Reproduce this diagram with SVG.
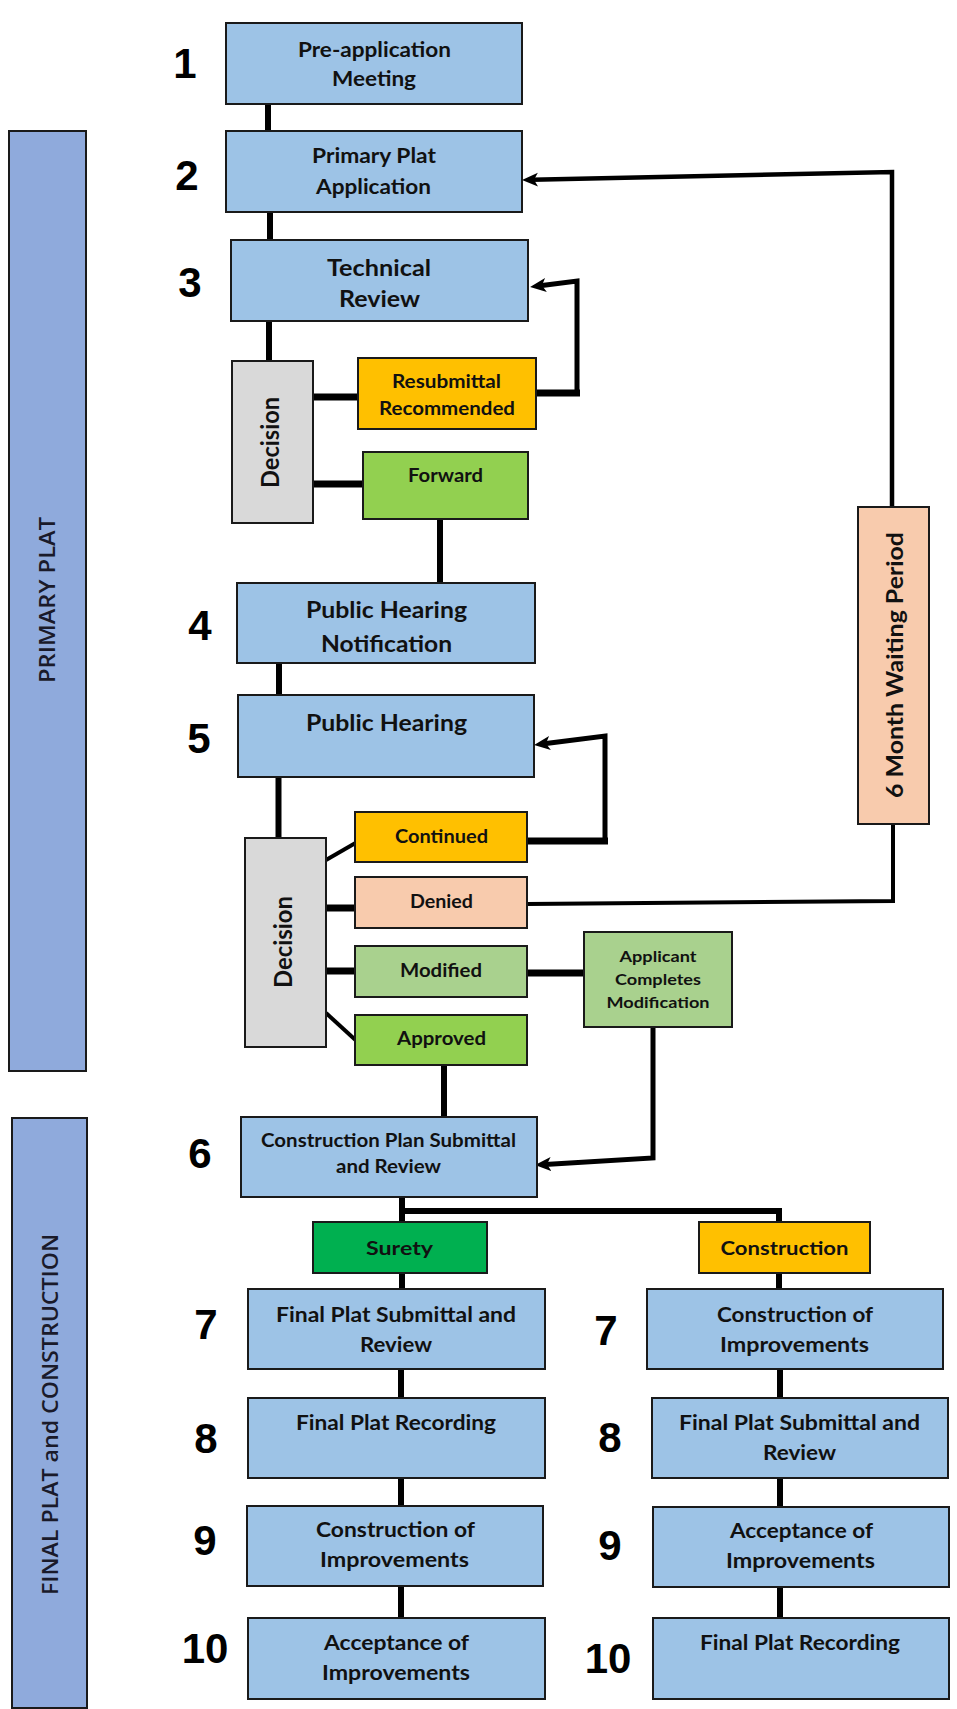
<svg xmlns="http://www.w3.org/2000/svg" width="957" height="1709" viewBox="0 0 957 1709">
<defs>
<style>
.b{stroke:#1a1a1a;stroke-width:2}
.blue{fill:#9dc3e6}
.bar{fill:#8faadc}
.gray{fill:#d9d9d9}
.org{fill:#ffc000}
.pch{fill:#f8cbad}
.lg{fill:#a9d18e}
.gr{fill:#92d050}
.dg{fill:#00b050}
.t{font-family:Lato,"Liberation Sans",sans-serif;font-weight:700;fill:#111;text-anchor:middle}
.num{font-family:"Liberation Sans",Arial,sans-serif;font-weight:700;font-size:42px;fill:#000;text-anchor:middle}
.side{font-family:"Open Sans","Liberation Sans",sans-serif;font-weight:600;font-size:22px;fill:#1a1a2a;text-anchor:middle}
.c{fill:none;stroke:#000;stroke-linejoin:miter}
</style>
<marker id="ah" markerUnits="userSpaceOnUse" markerWidth="16" markerHeight="16" viewBox="0 0 16 16" refX="6" refY="8" orient="auto">
<path d="M0,1 L16,8 L0,15 L4,8 z" fill="#000"/>
</marker>
</defs>

<g id="bar-primary">
<rect class="b bar" x="9" y="131" width="77" height="940"/>
<text class="side" transform="translate(55,600) rotate(-90)" textLength="166" lengthAdjust="spacingAndGlyphs">PRIMARY PLAT</text>
</g>
<g id="bar-final">
<rect class="b bar" x="12" y="1118" width="75" height="590"/>
<text class="side" transform="translate(57.5,1414.5) rotate(-90)" textLength="361" lengthAdjust="spacingAndGlyphs">FINAL PLAT and CONSTRUCTION</text>
</g>

<g id="connectors">
<g class="c" stroke-width="6">
<path d="M268,104 V131"/>
<path d="M270,212 V240"/>
<path d="M269,321 V361"/>
<path d="M440,519 V583"/>
<path d="M279,663 V695"/>
<path d="M278.5,777 V838"/>
<path d="M444,1065 V1117"/>
<path d="M402,1197 V1222"/>
<path d="M402,1211 H779 V1222"/>
<path d="M402,1273 V1289"/>
<path d="M779,1273 V1289"/>
<path d="M401,1369 V1398"/>
<path d="M401,1478 V1506"/>
<path d="M401,1586 V1618"/>
<path d="M780,1369 V1398"/>
<path d="M780,1478 V1507"/>
<path d="M780,1587 V1618"/>
</g>
<g class="c" stroke-width="7">
<path d="M313,397 H358"/>
<path d="M313,484 H363"/>
<path d="M326,908 H355"/>
<path d="M326,971 H355"/>
<path d="M527,973 H586"/>
<path d="M536,393 H580"/>
<path d="M527,841 H608"/>
</g>
<g class="c" stroke-width="4">
<path d="M326,860 L355.5,843"/>
<path d="M326,1013 L355.5,1040"/>
<path d="M527,904 L893,901 V824"/>
</g>
<g class="c" stroke-width="5">
<path d="M577,396 V281 L540,285.8" marker-end="url(#ah)"/>
<path d="M605,843 V736 L544,743.8" marker-end="url(#ah)"/>
<path d="M653,1027 V1158 L545,1164.4" marker-end="url(#ah)"/>
</g>
<path class="c" stroke-width="4.5" d="M892,507 V172 L532,179.8" marker-end="url(#ah)"/>
</g>

<g id="step1">
<rect class="b blue" x="226" y="23" width="296" height="81"/>
<text class="t" font-size="21" x="374.5" y="57" textLength="153" lengthAdjust="spacingAndGlyphs">Pre-application</text>
<text class="t" font-size="21" x="374" y="86" textLength="84" lengthAdjust="spacingAndGlyphs">Meeting</text>
<text class="num" x="185" y="78">1</text>
</g>
<g id="step2">
<rect class="b blue" x="226" y="131" width="296" height="81"/>
<text class="t" font-size="21" x="374" y="163" textLength="124" lengthAdjust="spacingAndGlyphs">Primary Plat</text>
<text class="t" font-size="21" x="373.5" y="194" textLength="115" lengthAdjust="spacingAndGlyphs">Application</text>
<text class="num" x="187" y="190">2</text>
</g>
<g id="step3">
<rect class="b blue" x="231" y="240" width="297" height="81"/>
<text class="t" font-size="22" x="379" y="276" textLength="104" lengthAdjust="spacingAndGlyphs">Technical</text>
<text class="t" font-size="22" x="379.5" y="307" textLength="81" lengthAdjust="spacingAndGlyphs">Review</text>
<text class="num" x="190" y="297">3</text>
</g>
<g id="decision1">
<rect class="b gray" x="232" y="361" width="81" height="162"/>
<text class="t" font-size="25" transform="translate(279,442.5) rotate(-90)" textLength="91" lengthAdjust="spacingAndGlyphs">Decision</text>
</g>
<g id="resubmittal">
<rect class="b org" x="358" y="358" width="178" height="71"/>
<text class="t" font-size="18" x="446.5" y="388" textLength="109" lengthAdjust="spacingAndGlyphs">Resubmittal</text>
<text class="t" font-size="18" x="447" y="415" textLength="136" lengthAdjust="spacingAndGlyphs">Recommended</text>
</g>
<g id="forward">
<rect class="b gr" x="363" y="452" width="165" height="67"/>
<text class="t" font-size="18" x="445.5" y="482" textLength="75" lengthAdjust="spacingAndGlyphs">Forward</text>
</g>
<g id="step4">
<rect class="b blue" x="237" y="583" width="298" height="80"/>
<text class="t" font-size="23" x="386.5" y="618" textLength="161" lengthAdjust="spacingAndGlyphs">Public Hearing</text>
<text class="t" font-size="23" x="386.5" y="652" textLength="131" lengthAdjust="spacingAndGlyphs">Notification</text>
<text class="num" x="200" y="640">4</text>
</g>
<g id="step5">
<rect class="b blue" x="238" y="695" width="296" height="82"/>
<text class="t" font-size="23" x="386.5" y="731" textLength="161" lengthAdjust="spacingAndGlyphs">Public Hearing</text>
<text class="num" x="199" y="753">5</text>
</g>
<g id="decision2">
<rect class="b gray" x="245" y="838" width="81" height="209"/>
<text class="t" font-size="25" transform="translate(292,942) rotate(-90)" textLength="92" lengthAdjust="spacingAndGlyphs">Decision</text>
</g>
<g id="continued">
<rect class="b org" x="355" y="812" width="172" height="50"/>
<text class="t" font-size="19" x="441.5" y="843" textLength="93" lengthAdjust="spacingAndGlyphs">Continued</text>
</g>
<g id="denied">
<rect class="b pch" x="355" y="877" width="172" height="51"/>
<text class="t" font-size="19" x="441.5" y="908" textLength="63" lengthAdjust="spacingAndGlyphs">Denied</text>
</g>
<g id="modified">
<rect class="b lg" x="355" y="946" width="172" height="51"/>
<text class="t" font-size="19" x="441" y="977" textLength="82" lengthAdjust="spacingAndGlyphs">Modified</text>
</g>
<g id="approved">
<rect class="b gr" x="355" y="1015" width="172" height="50"/>
<text class="t" font-size="19" x="441.5" y="1045" textLength="89" lengthAdjust="spacingAndGlyphs">Approved</text>
</g>
<g id="applicant">
<rect class="b lg" x="584" y="932" width="148" height="95"/>
<text class="t" font-size="16" x="658" y="962" textLength="77" lengthAdjust="spacingAndGlyphs">Applicant</text>
<text class="t" font-size="16" x="658" y="985" textLength="86" lengthAdjust="spacingAndGlyphs">Completes</text>
<text class="t" font-size="16" x="658" y="1008" textLength="103" lengthAdjust="spacingAndGlyphs">Modification</text>
</g>
<g id="waiting">
<rect class="b pch" x="858" y="507" width="71" height="317"/>
<text class="t" font-size="23" transform="translate(903,665) rotate(-90)" textLength="266" lengthAdjust="spacingAndGlyphs">6 Month Waiting Period</text>
</g>
<g id="step6">
<rect class="b blue" x="241" y="1117" width="296" height="80"/>
<text class="t" font-size="18" x="388.5" y="1147" textLength="255" lengthAdjust="spacingAndGlyphs">Construction Plan Submittal</text>
<text class="t" font-size="18" x="388.5" y="1173" textLength="105" lengthAdjust="spacingAndGlyphs">and Review</text>
<text class="num" x="200" y="1168">6</text>
</g>
<g id="surety">
<rect class="b dg" x="313" y="1222" width="174" height="51"/>
<text class="t" font-size="19" x="399.5" y="1255" textLength="67" lengthAdjust="spacingAndGlyphs">Surety</text>
</g>
<g id="construction">
<rect class="b org" x="699" y="1222" width="171" height="51"/>
<text class="t" font-size="19" x="784.5" y="1255" textLength="128" lengthAdjust="spacingAndGlyphs">Construction</text>
</g>
<g id="step7-surety">
<rect class="b blue" x="248" y="1289" width="297" height="80"/>
<text class="t" font-size="20" x="396" y="1322" textLength="240" lengthAdjust="spacingAndGlyphs">Final Plat Submittal and</text>
<text class="t" font-size="20" x="396" y="1352" textLength="72" lengthAdjust="spacingAndGlyphs">Review</text>
<text class="num" x="206" y="1339">7</text>
</g>
<g id="step7-construction">
<rect class="b blue" x="647" y="1289" width="296" height="80"/>
<text class="t" font-size="20" x="795" y="1322" textLength="156" lengthAdjust="spacingAndGlyphs">Construction of</text>
<text class="t" font-size="20" x="794.5" y="1352" textLength="149" lengthAdjust="spacingAndGlyphs">Improvements</text>
<text class="num" x="606" y="1345">7</text>
</g>
<g id="step8-surety">
<rect class="b blue" x="248" y="1398" width="297" height="80"/>
<text class="t" font-size="20" x="396" y="1430" textLength="200" lengthAdjust="spacingAndGlyphs">Final Plat Recording</text>
<text class="num" x="206" y="1453">8</text>
</g>
<g id="step8-construction">
<rect class="b blue" x="652" y="1398" width="296" height="80"/>
<text class="t" font-size="20" x="799.5" y="1430" textLength="241" lengthAdjust="spacingAndGlyphs">Final Plat Submittal and</text>
<text class="t" font-size="20" x="799.5" y="1460" textLength="73" lengthAdjust="spacingAndGlyphs">Review</text>
<text class="num" x="610" y="1452">8</text>
</g>
<g id="step9-surety">
<rect class="b blue" x="247" y="1506" width="296" height="80"/>
<text class="t" font-size="20" x="395.5" y="1537" textLength="159" lengthAdjust="spacingAndGlyphs">Construction of</text>
<text class="t" font-size="20" x="394.5" y="1567" textLength="149" lengthAdjust="spacingAndGlyphs">Improvements</text>
<text class="num" x="205" y="1555">9</text>
</g>
<g id="step9-construction">
<rect class="b blue" x="653" y="1507" width="296" height="80"/>
<text class="t" font-size="20" x="801.5" y="1538" textLength="143" lengthAdjust="spacingAndGlyphs">Acceptance of</text>
<text class="t" font-size="20" x="800.5" y="1568" textLength="149" lengthAdjust="spacingAndGlyphs">Improvements</text>
<text class="num" x="610" y="1560">9</text>
</g>
<g id="step10-surety">
<rect class="b blue" x="248" y="1618" width="297" height="81"/>
<text class="t" font-size="20" x="396.5" y="1650" textLength="145" lengthAdjust="spacingAndGlyphs">Acceptance of</text>
<text class="t" font-size="20" x="396" y="1680" textLength="148" lengthAdjust="spacingAndGlyphs">Improvements</text>
<text class="num" x="205" y="1663">10</text>
</g>
<g id="step10-construction">
<rect class="b blue" x="653" y="1618" width="296" height="81"/>
<text class="t" font-size="20" x="800" y="1650" textLength="200" lengthAdjust="spacingAndGlyphs">Final Plat Recording</text>
<text class="num" x="608" y="1673">10</text>
</g>
</svg>
